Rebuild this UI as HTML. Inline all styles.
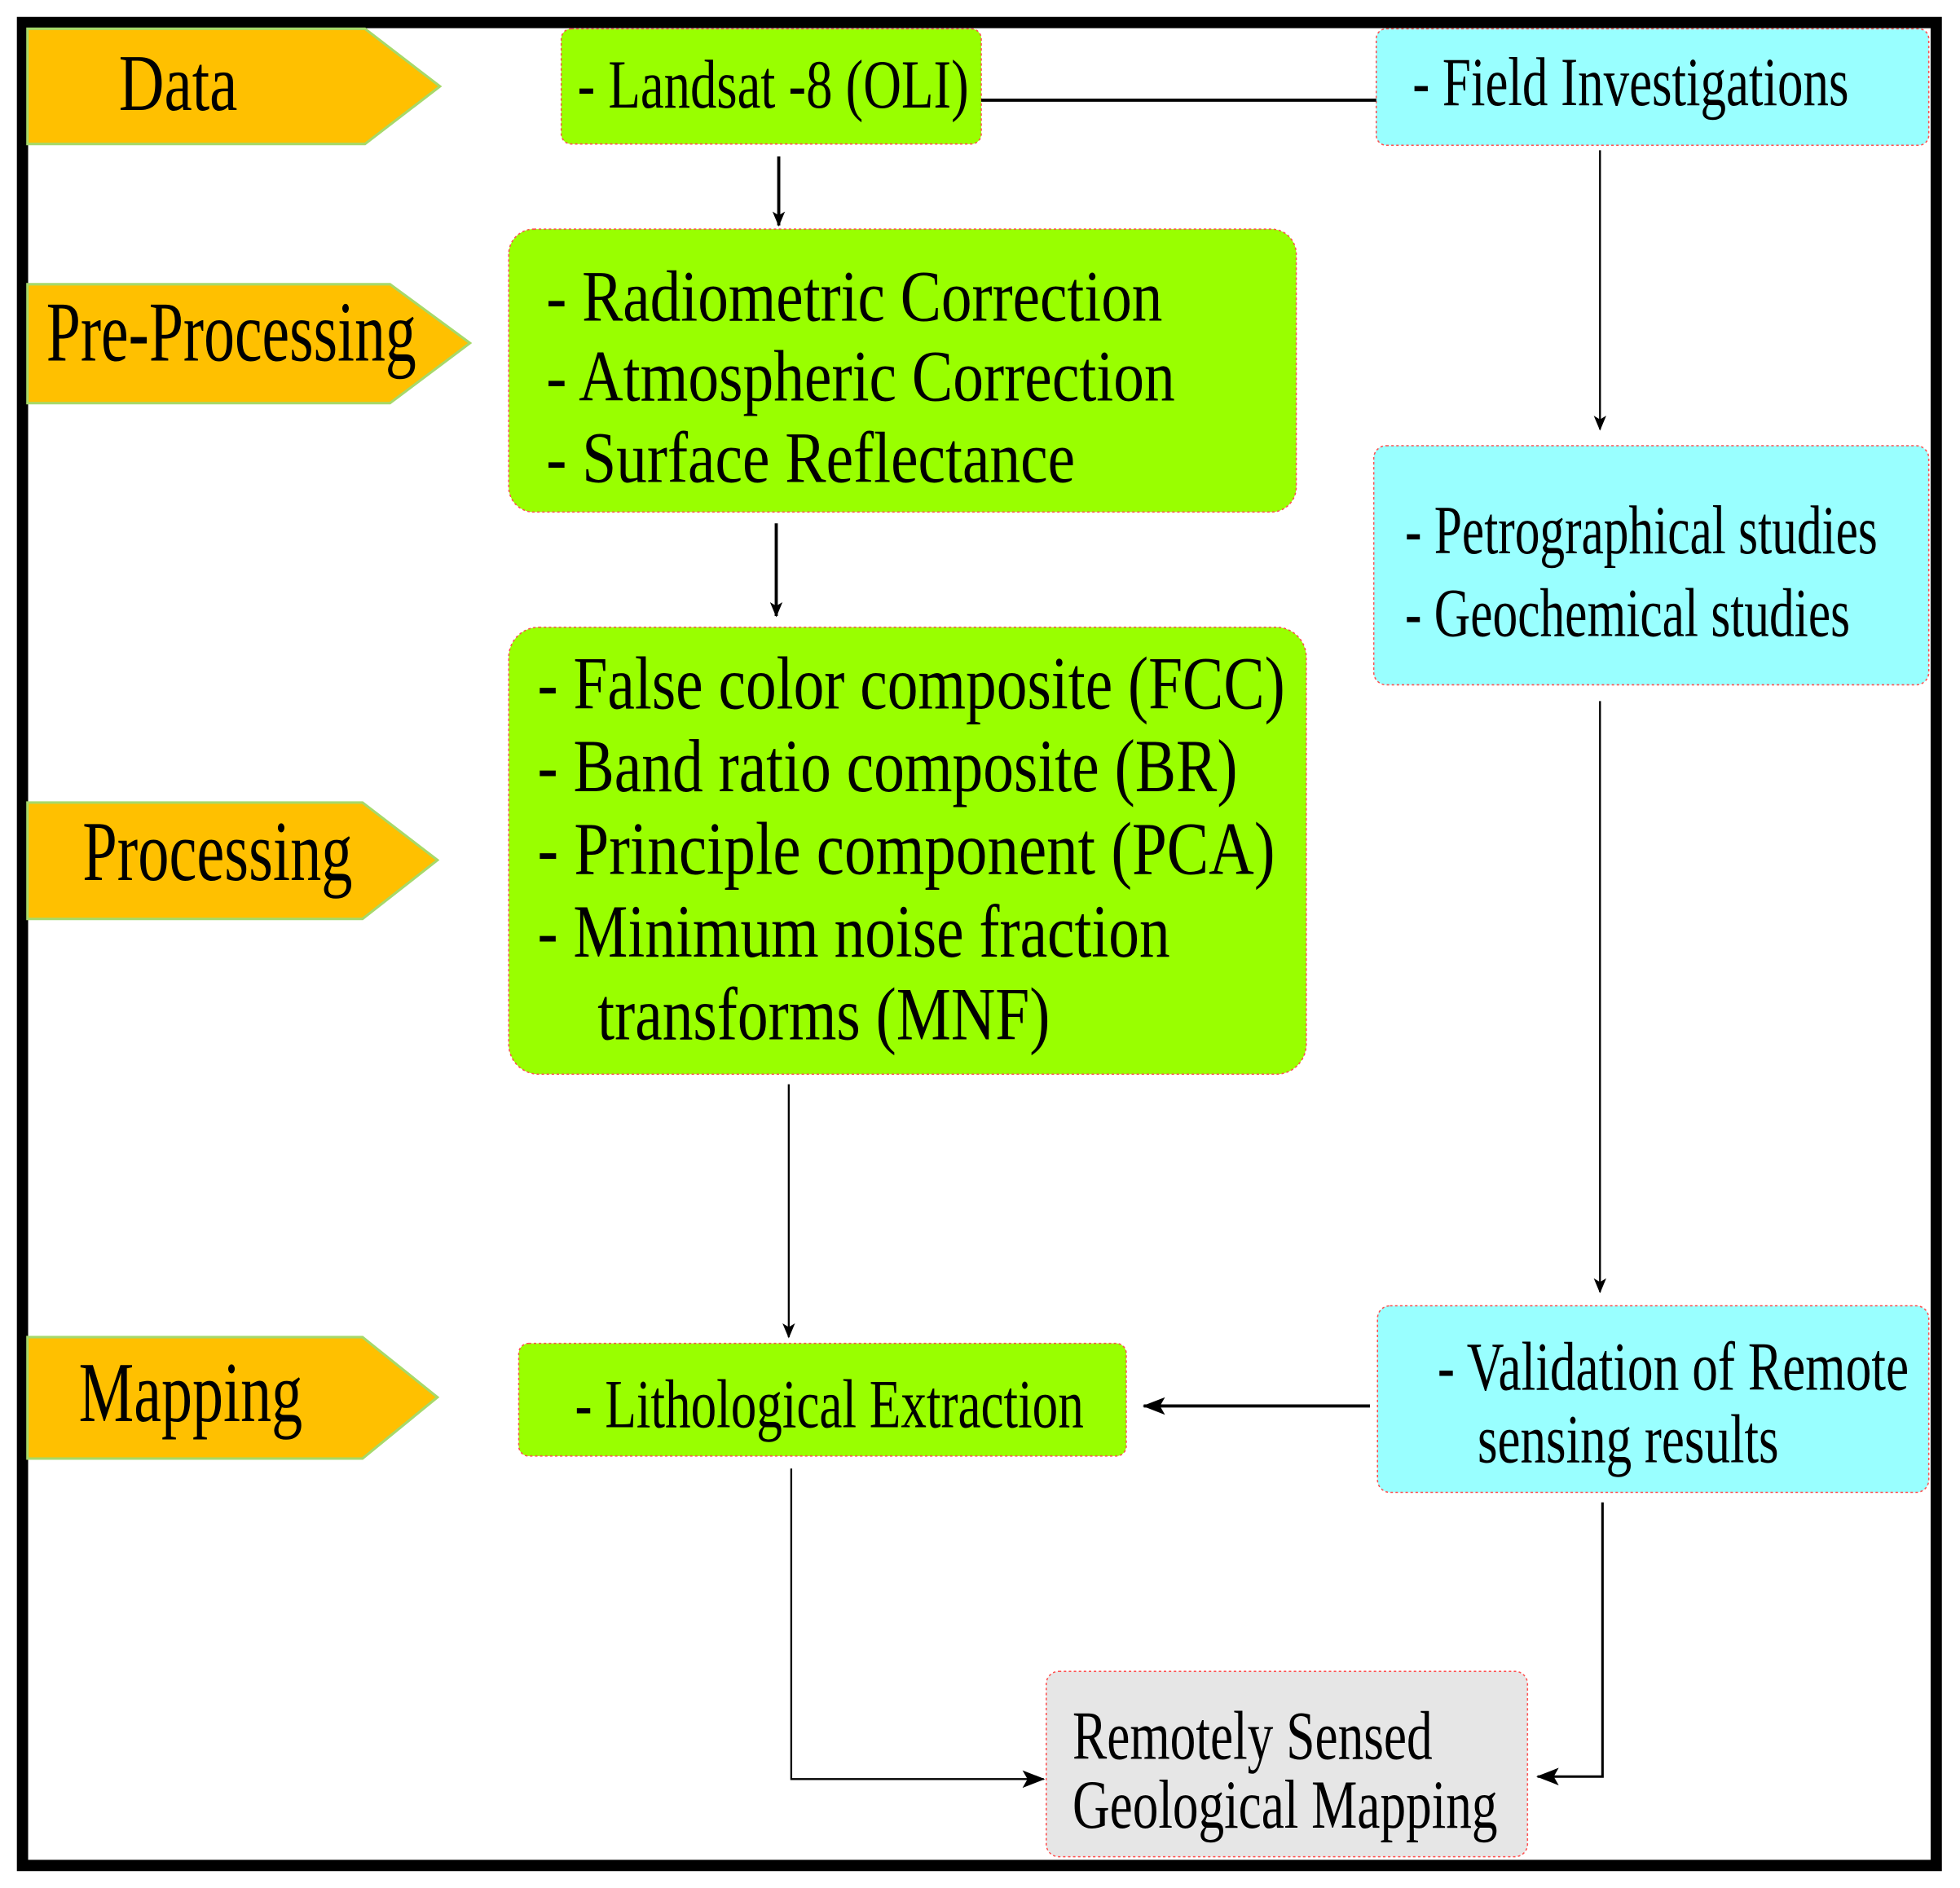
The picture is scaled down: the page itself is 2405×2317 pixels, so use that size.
<!DOCTYPE html>
<html><head><meta charset="utf-8"><style>
html,body{margin:0;padding:0;background:#fff}
svg{display:block}
text{font-family:"Liberation Serif",serif;fill:#000}
</style></head><body>
<svg width="2405" height="2317" viewBox="0 0 1568 1508" preserveAspectRatio="none" xmlns="http://www.w3.org/2000/svg">
<defs>
<marker id="ah" markerWidth="12" markerHeight="14" refX="11" refY="7" orient="auto" markerUnits="userSpaceOnUse">
<path d="M0,2 L12,7 L0,12 L3,7 Z" fill="#000"/></marker>
<marker id="ah2" markerWidth="18" markerHeight="16" refX="17" refY="8" orient="auto" markerUnits="userSpaceOnUse">
<path d="M0,1 L18,8 L0,15 L4,8 Z" fill="#000"/></marker>
</defs>
<rect x="18" y="18" width="1531" height="1472" fill="#fff" stroke="#000" stroke-width="9"/>
<g fill="#FFC000" stroke="#a6d96a" stroke-width="2">
<polygon points="22,23 292,23 352,69 292,115 22,115"/>
<polygon points="22,227 312,227 376,274 312,322 22,322"/>
<polygon points="22,641 290,641 350,687 290,734 22,734"/>
<polygon points="22,1068 290,1068 350,1116 290,1165 22,1165"/>
</g>
<text x="95" y="88" font-size="64" textLength="95" lengthAdjust="spacingAndGlyphs">Data</text>
<text x="37" y="288" font-size="68" textLength="296" lengthAdjust="spacingAndGlyphs">Pre-Processing</text>
<text x="66" y="703" font-size="68" textLength="216" lengthAdjust="spacingAndGlyphs">Processing</text>
<text x="63" y="1135" font-size="68" textLength="179" lengthAdjust="spacingAndGlyphs">Mapping</text>
<g stroke="#ff5050" stroke-width="1" stroke-dasharray="2,2">
<rect x="449" y="23" width="336" height="92" rx="8" fill="#99FF00"/>
<rect x="407" y="183" width="630" height="226" rx="20" fill="#99FF00"/>
<rect x="407" y="501" width="638" height="357" rx="24" fill="#99FF00"/>
<rect x="415" y="1073" width="486" height="90" rx="8" fill="#99FF00"/>
<rect x="1101" y="23" width="442" height="93" rx="8" fill="#99FFFF"/>
<rect x="1099" y="356" width="444" height="191" rx="10" fill="#99FFFF"/>
<rect x="1102" y="1043" width="441" height="149" rx="10" fill="#99FFFF"/>
<rect x="837" y="1335" width="385" height="148" rx="10" fill="#E6E6E6"/>
</g>
<text x="462" y="86" font-size="55" textLength="313" lengthAdjust="spacingAndGlyphs">- Landsat -8 (OLI)</text>
<text x="437" y="256" font-size="58" textLength="493" lengthAdjust="spacingAndGlyphs">- Radiometric Correction</text>
<text x="437" y="320" font-size="58" textLength="503" lengthAdjust="spacingAndGlyphs">- Atmospheric Correction</text>
<text x="437" y="385" font-size="58" textLength="423" lengthAdjust="spacingAndGlyphs">- Surface Reflectance</text>
<text x="430" y="566" font-size="60" textLength="598" lengthAdjust="spacingAndGlyphs">- False color composite (FCC)</text>
<text x="430" y="632" font-size="60" textLength="560" lengthAdjust="spacingAndGlyphs">- Band ratio composite (BR)</text>
<text x="430" y="698" font-size="60" textLength="590" lengthAdjust="spacingAndGlyphs">- Principle component  (PCA)</text>
<text x="430" y="764" font-size="60" textLength="506" lengthAdjust="spacingAndGlyphs">- Minimum noise fraction</text>
<text x="478" y="830" font-size="60" textLength="362" lengthAdjust="spacingAndGlyphs">transforms (MNF)</text>
<text x="460" y="1140" font-size="55" textLength="407" lengthAdjust="spacingAndGlyphs">- Lithological Extraction</text>
<text x="1130" y="84" font-size="55" textLength="349" lengthAdjust="spacingAndGlyphs">- Field Investigations</text>
<text x="1124" y="442" font-size="55" textLength="378" lengthAdjust="spacingAndGlyphs">- Petrographical studies</text>
<text x="1124" y="508" font-size="55" textLength="356" lengthAdjust="spacingAndGlyphs">- Geochemical studies</text>
<text x="1150" y="1110" font-size="55" textLength="377" lengthAdjust="spacingAndGlyphs">- Validation of Remote</text>
<text x="1182" y="1168" font-size="55" textLength="241" lengthAdjust="spacingAndGlyphs">sensing results</text>
<text x="858" y="1405" font-size="55" textLength="288" lengthAdjust="spacingAndGlyphs">Remotely Sensed</text>
<text x="858" y="1460" font-size="55" textLength="340" lengthAdjust="spacingAndGlyphs">Geological Mapping</text>
<g stroke="#000" fill="none">
<line x1="785" y1="80" x2="1101" y2="80" stroke-width="2.5"/>
<line x1="623" y1="125" x2="623" y2="180" stroke-width="2.5" marker-end="url(#ah)"/>
<line x1="1280" y1="120" x2="1280" y2="343" stroke-width="1.5" marker-end="url(#ah)"/>
<line x1="621" y1="418" x2="621" y2="492" stroke-width="2.5" marker-end="url(#ah)"/>
<line x1="631" y1="866" x2="631" y2="1068" stroke-width="1.5" marker-end="url(#ah)"/>
<line x1="1280" y1="560" x2="1280" y2="1032" stroke-width="1.5" marker-end="url(#ah)"/>
<line x1="1096" y1="1123" x2="915" y2="1123" stroke-width="2.5" marker-end="url(#ah2)"/>
<polyline points="633,1173 633,1421 835,1421" stroke-width="1.5" marker-end="url(#ah2)"/>
<polyline points="1282,1200 1282,1419 1230,1419" stroke-width="2" marker-end="url(#ah2)"/>
</g>
</svg>
</body></html>
